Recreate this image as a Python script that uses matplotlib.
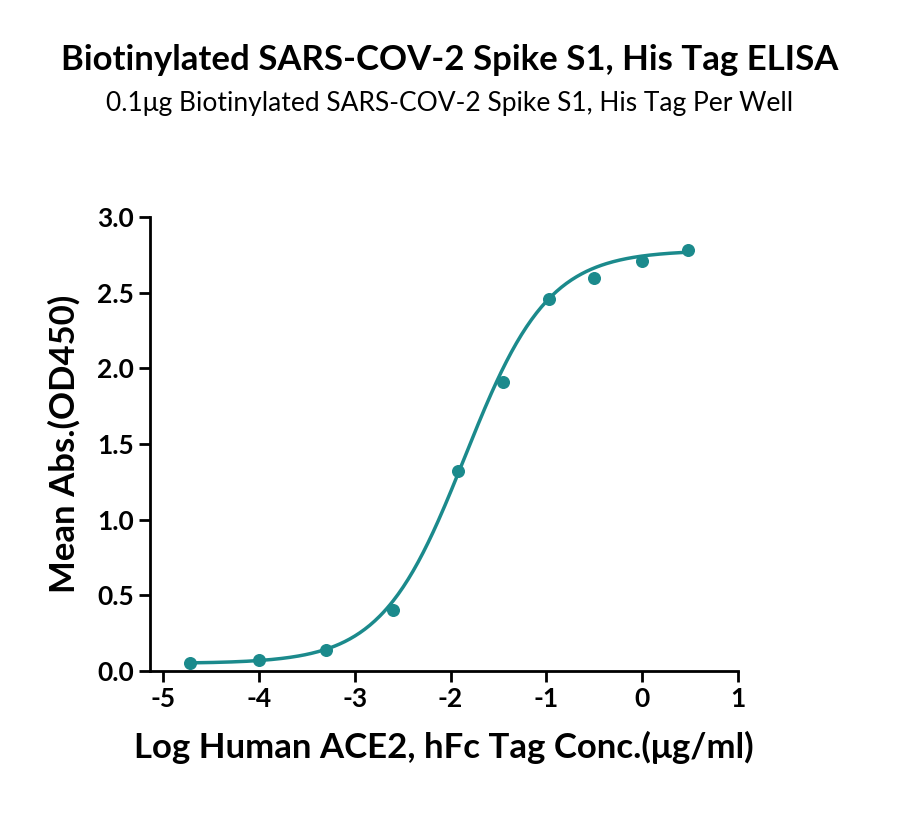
import numpy as np
import matplotlib.pyplot as plt

plt.rcParams['font.family'] = ['Lato', 'DejaVu Sans']
plt.rcParams['axes.unicode_minus'] = False

log_conc = [-4.72, -4.0, -3.3, -2.6, -1.92, -1.45, -0.97, -0.5, 0.0, 0.48]
mean_abs = [0.05, 0.07, 0.14, 0.40, 1.32, 1.91, 2.46, 2.60, 2.71, 2.78]

# 4PL fit parameters (estimated from the reference curve)
bottom, top, log_ec50, hill = 0.05, 2.78, -1.85, 1.0

COLOR = '#1b8a8c'

fig = plt.figure(figsize=(9, 8.21), dpi=100)
ax = fig.add_axes([150 / 900, 150 / 821, (738 - 150) / 900, (671 - 217) / 821])

xs = np.linspace(log_conc[0], log_conc[-1], 300)
ax.plot(xs, bottom + (top - bottom) / (1 + 10 ** ((log_ec50 - xs) * hill)), color=COLOR, lw=2.5)
ax.scatter(log_conc, mean_abs, color=COLOR, s=70, zorder=3)

ax.set_xlim(-5 - 13 / 575 * 6, 1)
ax.set_ylim(0, 3)
ax.set_xticks(range(-5, 2))
ax.set_yticks([0, 0.5, 1, 1.5, 2, 2.5, 3])
ax.set_yticklabels(['0.0', '0.5', '1.0', '1.5', '2.0', '2.5', '3.0'])
for s in ['top', 'right']:
    ax.spines[s].set_visible(False)
for s in ['left', 'bottom']:
    ax.spines[s].set_linewidth(2)
ax.tick_params(width=2, length=8, labelsize=19)
for lab in ax.get_xticklabels() + ax.get_yticklabels():
    lab.set_fontweight('bold')

ax.set_xlabel('Log Human ACE2, hFc Tag Conc.(μg/ml)', fontsize=25, fontweight='bold', labelpad=14)
ax.set_ylabel('Mean Abs.(OD450)', fontsize=25, fontweight='bold', labelpad=12)

fig.text(0.5, 1 - 60 / 821, 'Biotinylated SARS-COV-2 Spike S1, His Tag ELISA',
         ha='center', va='center', fontsize=25, fontweight='bold')
fig.text(0.5, 1 - 104 / 821, '0.1μg Biotinylated SARS-COV-2 Spike S1, His Tag Per Well',
         ha='center', va='center', fontsize=19)

fig.savefig('out.png', dpi=100)
